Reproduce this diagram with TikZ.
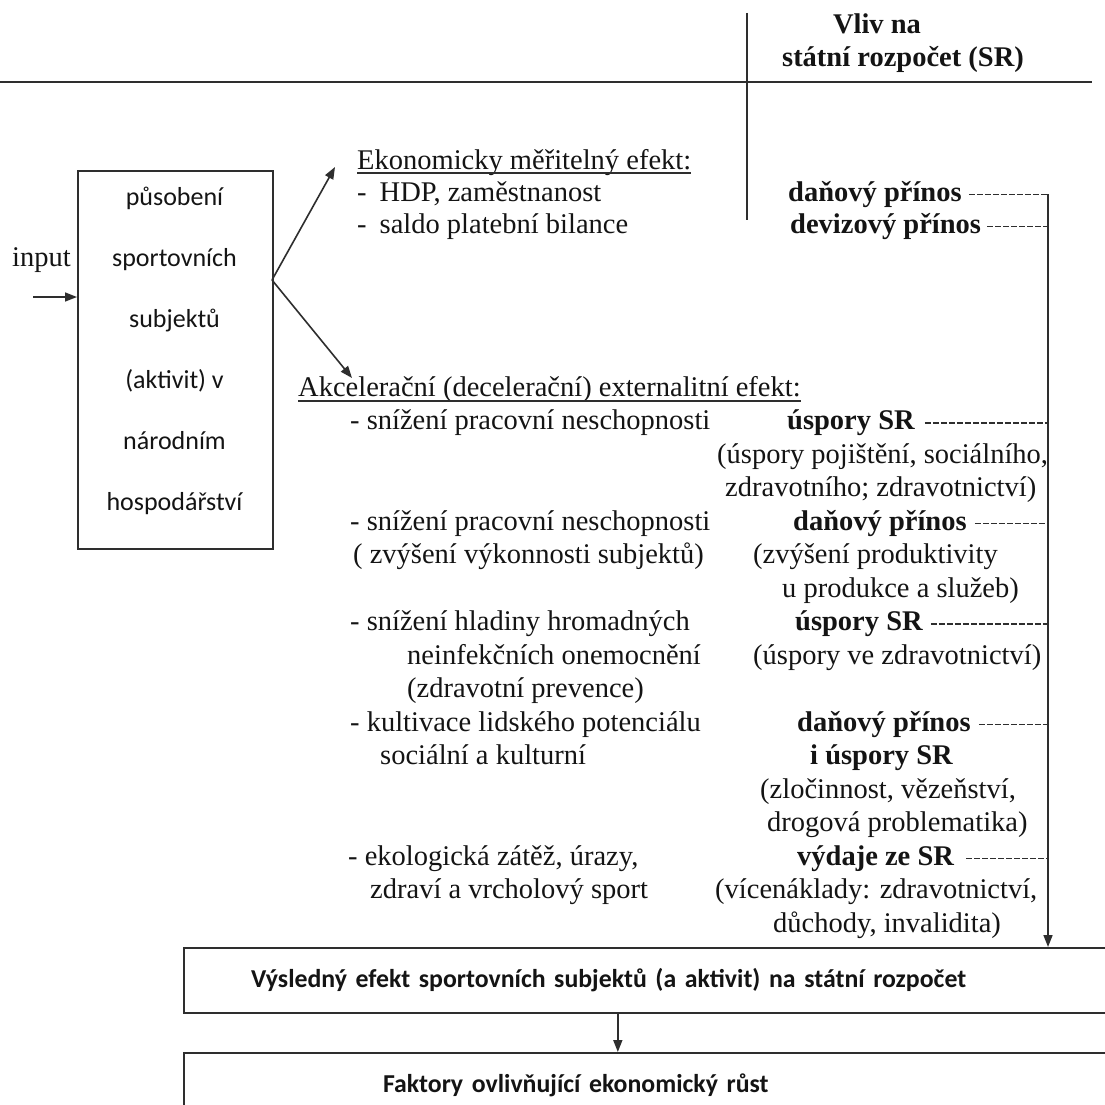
\documentclass[tikz,border=0pt]{standalone}
\usepackage{fontspec}
\setmainfont{Liberation Serif}
\newfontfamily\boxfont{Carlito}
\usetikzlibrary{arrows.meta,calc}
\definecolor{txt}{gray}{0.08}
\definecolor{lc}{gray}{0.18}
\begin{document}
\begin{tikzpicture}[x=1pt,y=-1pt,
  t/.style={anchor=base west, inner sep=0pt, text=txt, font=\fontsize{28.5}{33}\selectfont, execute at begin node=\strut},
  tb/.style={t, font=\fontsize{28.5}{33}\selectfont\bfseries},
  ln/.style={line width=1.6pt, draw=lc},
  ul/.style={line width=1.3pt, draw=lc},
  arr/.style={ln, -{Triangle[length=12pt,width=9pt]}},
  dsh/.style={ln, dash pattern=on 6pt off 2pt},
  frame/.style={draw=lc, line width=2pt},
  resbox/.style={frame, anchor=north west, minimum height=65pt, inner ysep=0pt, align=left, text=txt, font=\boxfont\fontsize{25.8}{30}\selectfont\bfseries},
]
\useasboundingbox (0,0) rectangle (1105,1105);
\clip (0,0) rectangle (1105,1105);
\fill[white] (0,0) rectangle (1105,1105);

% header
\node[tb, anchor=base] (hd1) at (877,34) {Vliv na};
\node[tb, anchor=base] (hd2) at (903,67) {státní rozpočet (SR)};
\coordinate (vt) at (747,13);
\coordinate (vb) at (747,220);
\draw[ln] (vt) -- (vb);
\coordinate (hl) at (0,82);
\coordinate (hr) at (1092,82);
\draw[ln] (hl) -- (hr);

% input and main box
\node[t] (inp) at (12,266) {input};
\node[frame, anchor=north west, minimum width=195pt, minimum height=378pt, inner sep=0pt] (box) at (77,170) {};
\node[align=center, inner sep=0pt, text=txt, font=\boxfont\fontsize{26}{61}\selectfont] (boxt) at (174.5,351) {působení\\sportovních\\subjektů\\(aktivit) v\\národním\\hospodářství};
\coordinate (ins) at (33,297);
\draw[arr] (ins) -- (ins -| box.west);
\coordinate (split) at (272,280);
\coordinate (tipA) at (335,167);
\coordinate (tipB) at (352,378);
\draw[arr] (split) -- (tipA);
\draw[arr] (split) -- (tipB);

% economic effect
\node[t] (eko) at (357,169) {Ekonomicky měřitelný efekt:};
\draw[ul] ($(eko.base west)+(0,4)$) -- ($(eko.base east)+(0,4)$);
\node[t] (hdp) at (357,201) {-\hspace{13pt}HDP, zaměstnanost};
\node[t] (sal) at (357,233) {-\hspace{13pt}saldo platební bilance};

\node[tb] (dp1) at (788,201) {daňový přínos};
\node[tb] (dv1) at (790,233) {devizový přínos};
\coordinate (rt) at (1048,194);

% externality effect
\node[t] (ak) at (298,396) {Akcelerační (decelerační) externalitní efekt:};
\draw[ul] ($(ak.base west)+(0,5)$) -- ($(ak.base east)+(0,5)$);

\node[t] (l1) at (350,429.5) {- snížení pracovní neschopnosti};
\node[t] (l4) at (350,530) {- snížení pracovní neschopnosti};
\node[t] (l5) at (353,563.5) {( zvýšení výkonnosti subjektů)};
\node[t] (l7) at (350,630.5) {- snížení hladiny hromadných};
\node[t] (l8) at (407,664) {neinfekčních onemocnění};
\node[t] (l9) at (407,697.5) {(zdravotní prevence)};
\node[t] (l10) at (350,731) {- kultivace lidského potenciálu};
\node[t] (l11) at (380,764.5) {sociální a kulturní};
\node[t] (l14) at (348,865) {- ekologická zátěž, úrazy,};
\node[t] (l15) at (370,898.5) {zdraví a vrcholový sport};

\node[tb] (r1) at (787,429.5) {úspory SR};
\node[t] (r2) at (717,463) {(úspory pojištění, sociálního,};
\node[t] (r3) at (725,496.5) {zdravotního; zdravotnictví)};
\node[tb] (r4) at (793,530) {daňový přínos};
\node[t] (r5) at (753,563.5) {(zvýšení produktivity};
\node[t] (r6) at (782,597) {u produkce a služeb)};
\node[tb] (r7) at (795,630.5) {úspory SR};
\node[t] (r8) at (753,664) {(úspory ve zdravotnictví)};
\node[tb] (r10) at (797,731) {daňový přínos};
\node[tb] (r11) at (810,764.5) {i úspory SR};
\node[t] (r12) at (760,798) {(zločinnost, vězeňství,};
\node[t] (r13) at (767,831.5) {drogová problematika)};
\node[tb] (r14) at (797,865) {výdaje ze SR};
\node[t] (r15) at (715,898.5) {(vícenáklady: zdravotnictví,};
\node[t] (r16) at (773,932) {důchody, invalidita)};

% bottom boxes
\node[resbox, inner xsep=67pt, text width=826pt] (res) at (183,947) {Výsledný efekt sportovních subjektů (a aktivit) na státní rozpočet};
\node[resbox, inner xsep=199pt, text width=562pt] (fak) at (183,1052) {Faktory ovlivňující ekonomický růst};

% dashed leaders to the right line
\draw[dsh] ($(dp1.east)+(7,0)$) -- (dp1.east -| rt);
\draw[dsh] ($(dv1.east)+(6,0)$) -- (dv1.east -| rt);
\draw[dsh] ($(r1.east)+(10,0)$) -- (r1.east -| rt);
\draw[dsh] ($(r4.east)+(8,0)$) -- (r4.east -| rt);
\draw[dsh] ($(r7.east)+(8,0)$) -- (r7.east -| rt);
\draw[dsh] ($(r10.east)+(8,0)$) -- (r10.east -| rt);
\draw[dsh] ($(r14.east)+(12,0)$) -- (r14.east -| rt);

% collecting line and arrows
\draw[arr] (rt) -- (rt |- res.north);
\draw[arr] ($(res.south west)!0.452!(res.south east)$) -- ($(fak.north west)!0.452!(fak.north east)$);
\end{tikzpicture}
\end{document}
